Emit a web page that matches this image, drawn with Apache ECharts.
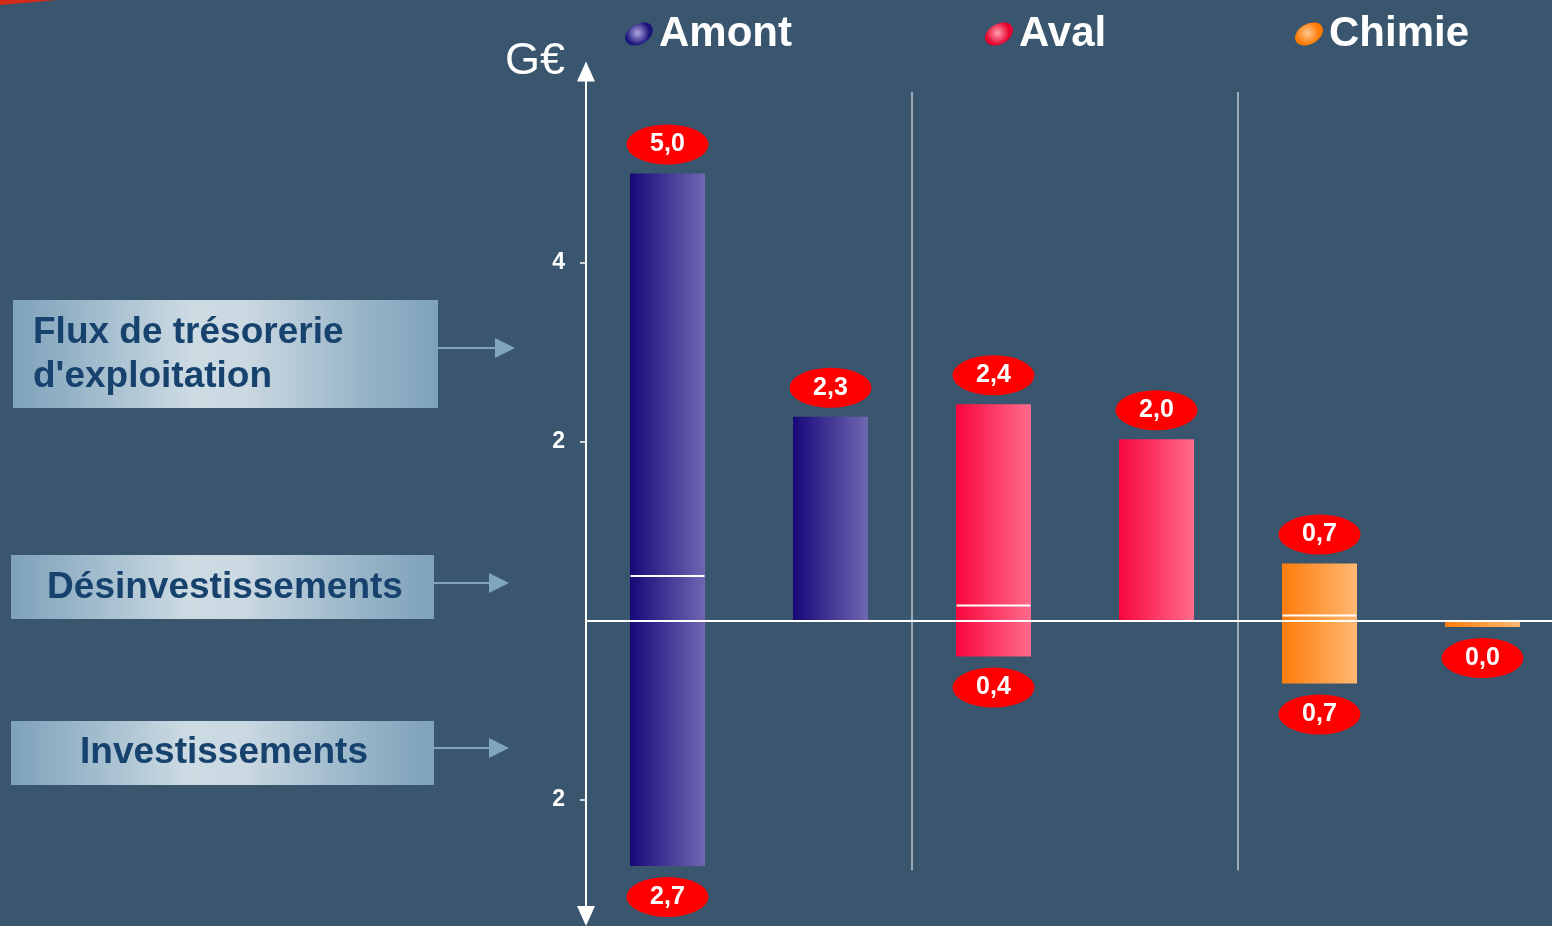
<!DOCTYPE html>
<html><head><meta charset="utf-8">
<script src="https://cdn.jsdelivr.net/npm/echarts@6/dist/echarts.min.js"></script>
<style>html,body{margin:0;padding:0;background:#3a566e;}#c{width:1552px;height:926px;}</style>
</head><body><div id="c"></div><script>
// ---- data ----
const categories = ['Amont – ressources/emplois', 'Amont – solde', 'Aval – ressources/emplois', 'Aval – solde', 'Chimie – ressources/emplois', 'Chimie – solde'];
const segments = ['Amont', 'Aval', 'Chimie'];
const desinvestissements = [0.5, null, 0.17, null, 0.06, null];
const fluxExploitation = [4.5, null, 2.25, null, 0.58, null];
const investissements = [-2.74, null, -0.4, null, -0.7, null];
const solde = [null, 2.28, null, 2.03, null, -0.07];
const labelsHaut = ['5,0', '2,3', '2,4', '2,0', '0,7', null];
const labelsBas = ['2,7', null, '0,4', null, '0,7', '0,0'];
const yTicks = [4, 2, -2];
const separateurApres = [1, 3];
const boxLabels = ["Flux de trésorerie\nd'exploitation", 'Désinvestissements', 'Investissements'];

// ---- styles ----
const FONT = '"Liberation Sans", Arial, sans-serif';
const palette = {
  Amont: ['#170879', '#7067b2'],
  Aval: ['#f8073e', '#ff6b8c'],
  Chimie: ['#ff7c0c', '#ffb872']
};
const legendCenter = {
  Amont: ['#b0a8e0', '#1a137a'],
  Aval: ['#ffa0b0', '#e8002c'],
  Chimie: ['#ffc890', '#ff7800']
};
function barColor(p) {
  const c = palette[segments[Math.floor(p.dataIndex / 2)]];
  return new echarts.graphic.LinearGradient(0, 0, 1, 0, [{offset: 0, color: c[0]}, {offset: 1, color: c[1]}]);
}
const ellipseIcon = 'path://M2.01,19.5A15,10,-30,1,1,27.99,4.5A15,10,-30,1,1,2.01,19.5Z';

const chart = echarts.init(document.getElementById('c'), null, {renderer: 'canvas'});

const barCommon = {type: 'bar', stack: 'total', barWidth: 75, silent: true, z: 2, itemStyle: {color: barColor}};

const topData = [], bottomData = [];
categories.forEach((c, i) => {
  let top = null, bot = null;
  if (fluxExploitation[i] != null) top = fluxExploitation[i] + (desinvestissements[i] || 0);
  else if (solde[i] != null && solde[i] > 0) top = solde[i];
  if (investissements[i] != null) bot = investissements[i];
  else if (solde[i] != null && solde[i] < 0) bot = solde[i];
  if (top != null && labelsHaut[i]) topData.push({value: [i, top], name: labelsHaut[i]});
  if (bot != null && labelsBas[i]) bottomData.push({value: [i, bot], name: labelsBas[i]});
});

const labelStyle = {show: true, position: 'inside', color: '#ffffff', fontWeight: 'bold', fontSize: 25, fontFamily: FONT, formatter: p => p.name};

const boxGrad = () => new echarts.graphic.LinearGradient(0, 0, 1, 0, [
  {offset: 0, color: '#7ea2ba'}, {offset: 0.15, color: '#98b5c8'}, {offset: 0.42, color: '#cddbe3'},
  {offset: 0.55, color: '#cad8e1'}, {offset: 0.82, color: '#98b5c8'}, {offset: 1, color: '#7ea2ba'}]);
const arrowCol = '#7fa4bc';
function arrow(x1, x2, y) {
  return [
    {type: 'line', shape: {x1: x1, y1: y, x2: x2 - 18, y2: y}, style: {stroke: arrowCol, lineWidth: 2}},
    {type: 'polygon', shape: {points: [[x2 - 20, y - 10], [x2, y], [x2 - 20, y + 10]]}, style: {fill: arrowCol}}
  ];
}

const option = {
  backgroundColor: '#3a566e',
  animation: false,
  grid: {left: 586, top: 71.5, bottom: 10, width: 978, outerBoundsMode: 'none', containLabel: false},
  xAxis: {
    type: 'category', data: categories, z: 6,
    axisLine: {show: true, onZero: true, lineStyle: {color: '#ffffff', width: 2}},
    axisTick: {show: false}, axisLabel: {show: false}, splitLine: {show: false}
  },
  yAxis: {
    type: 'value', min: -3.30, max: 6.14, z: 6,
    name: 'G€', nameLocation: 'end', nameGap: 9.5,
    nameTextStyle: {color: '#fff', fontSize: 45, fontFamily: FONT, align: 'right', verticalAlign: 'middle', padding: [0, 21, 0, 0]},
    axisLine: {show: true, onZero: false, symbol: ['triangle', 'triangle'], symbolSize: [18, 20], lineStyle: {color: '#fff', width: 2}},
    axisTick: {show: true, customValues: yTicks, length: 6, lineStyle: {color: '#fff', width: 1.5}},
    axisLabel: {customValues: yTicks, formatter: v => String(Math.abs(v)), color: '#fff', fontWeight: 'bold', fontSize: 23, fontFamily: FONT, margin: 21},
    splitLine: {show: false}
  },
  legend: segments.map((s, i) => ({
    data: [{name: s, icon: ellipseIcon, itemStyle: {color: new echarts.graphic.RadialGradient(0.45, 0.45, 0.6, [{offset: 0, color: legendCenter[s][0]}, {offset: 1, color: legendCenter[s][1]}])}}],
    left: [619, 979, 1289][i], top: 8, itemWidth: 30, itemHeight: 23, selectedMode: false,
    textStyle: {color: '#fff', fontSize: 42, fontWeight: 'bold', fontFamily: FONT}
  })),
  series: [
    ...segments.map(s => ({type: 'line', name: s, data: [], itemStyle: {color: legendCenter[s][1]}})),
    Object.assign({}, barCommon, {name: 'Désinvestissements', data: desinvestissements}),
    Object.assign({}, barCommon, {name: "Flux de trésorerie d'exploitation", data: fluxExploitation}),
    Object.assign({}, barCommon, {name: 'Investissements', data: investissements}),
    Object.assign({}, barCommon, {name: 'Solde', data: solde}),
    {
      type: 'custom', name: 'séparation', silent: true, z: 7,
      data: desinvestissements.map((v, i) => v == null ? null : [i, v]).filter(Boolean),
      encode: {x: 0, y: 1},
      renderItem: (params, api) => {
        const p = api.coord([api.value(0), api.value(1)]);
        return {type: 'line', shape: {x1: p[0] - 37, y1: p[1], x2: p[0] + 37, y2: p[1]}, style: {stroke: '#ffffff', lineWidth: 2}};
      }
    },
    {
      type: 'custom', name: 'séparateurs', silent: true, z: 1,
      data: separateurApres.map(i => [i, 0]),
      encode: {x: 0, y: 1},
      renderItem: (params, api) => {
        const i = api.value(0);
        const x = api.coord([i, 0])[0] + api.size([1, 0])[0] / 2;
        const y1 = api.coord([i, 5.91])[1], y2 = api.coord([i, -2.79])[1];
        return {type: 'line', shape: {x1: x, y1: y1, x2: x, y2: y2}, style: {stroke: '#ffffff', lineWidth: 1}};
      }
    },
    {
      type: 'scatter', name: 'étiquettes haut', silent: true, z: 8,
      symbol: 'circle', symbolSize: [82, 40], symbolOffset: [0, -29],
      itemStyle: {color: '#ff0000', opacity: 1}, label: labelStyle, data: topData
    },
    {
      type: 'scatter', name: 'étiquettes bas', silent: true, z: 8,
      symbol: 'circle', symbolSize: [82, 40], symbolOffset: [0, 31],
      itemStyle: {color: '#ff0000', opacity: 1}, label: labelStyle, data: bottomData
    }
  ],
  graphic: [
    {type: 'polygon', shape: {points: [[0, 0], [58, 0], [0, 5]]}, style: {fill: '#d42a1a'}},
    {type: 'rect', shape: {x: 13, y: 300, width: 425, height: 108}, style: {fill: boxGrad()}},
    {type: 'text', x: 33, y: 355, style: {text: boxLabels[0], fill: '#17426e', font: 'bold 37px ' + FONT, lineHeight: 44, align: 'left', verticalAlign: 'middle'}},
    ...arrow(438, 515, 348),
    {type: 'rect', shape: {x: 11, y: 555, width: 423, height: 64}, style: {fill: boxGrad()}},
    {type: 'text', x: 225, y: 588, style: {text: boxLabels[1], fill: '#17426e', font: 'bold 37px ' + FONT, align: 'center', verticalAlign: 'middle'}},
    ...arrow(434, 509, 583),
    {type: 'rect', shape: {x: 11, y: 721, width: 423, height: 64}, style: {fill: boxGrad()}},
    {type: 'text', x: 224, y: 753, style: {text: boxLabels[2], fill: '#17426e', font: 'bold 37px ' + FONT, align: 'center', verticalAlign: 'middle'}},
    ...arrow(434, 509, 748)
  ]
};
chart.setOption(option);
</script></body></html>
